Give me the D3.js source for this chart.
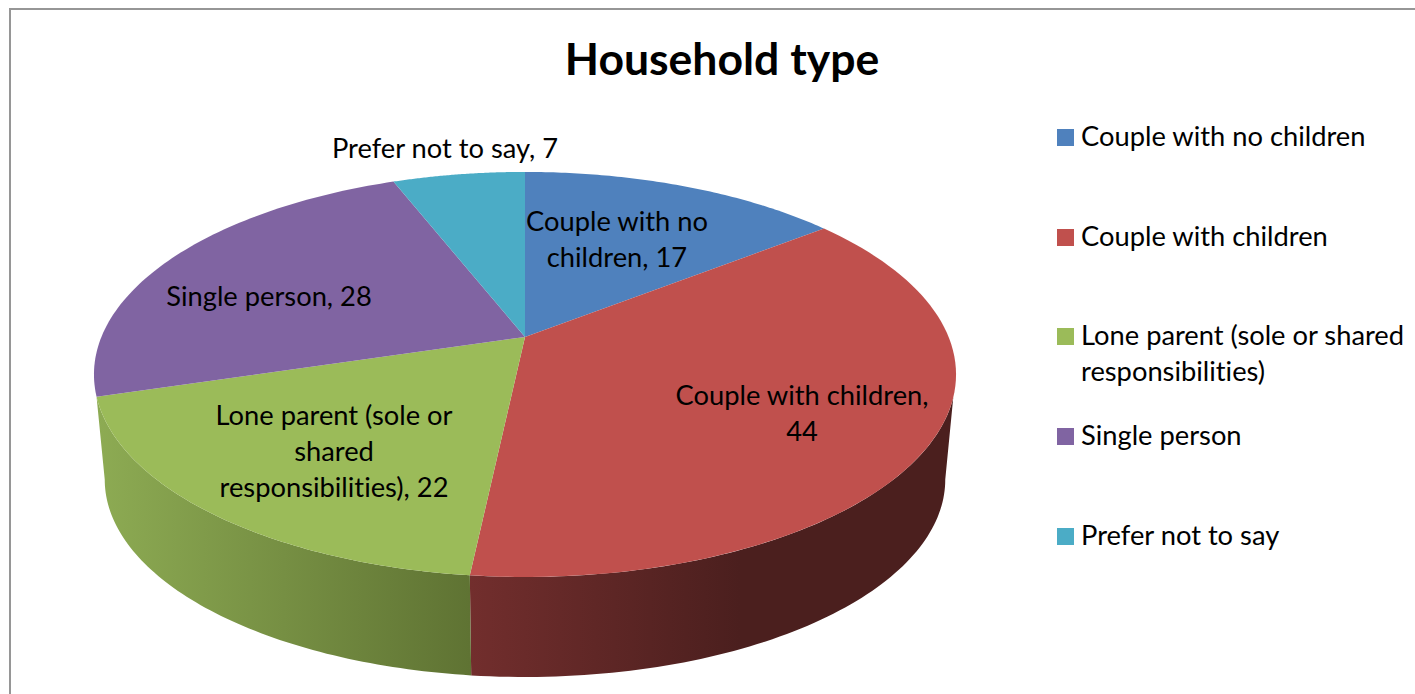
<!DOCTYPE html>
<html><head><meta charset="utf-8">
<script src="https://d3js.org/d3.v7.min.js"></script>
<style>html,body{margin:0;padding:0;background:#fff;overflow:hidden}text{font-family:Lato,"Open Sans",sans-serif;fill:#000;font-variant-ligatures:none}</style>
</head><body><svg id="c" width="1415" height="694"></svg>
<script>
const categories=["Couple with no children","Couple with children","Lone parent (sole or shared responsibilities)","Single person","Prefer not to say"];
const values=[17,44,22,28,7];
const topColors=["#4f81bd","#c0504d","#9bbb59","#8064a2","#4bacc6"];
const labelLines=[["Couple with no","children, 17"],["Couple with children,","44"],["Lone parent (sole or","shared","responsibilities), 22"],["Single person, 28"],["Prefer not to say, 7"]];
const labelPos=[[617,240],[802,414],[334,452],[269,297],[445,149]];
const legendLines=[["Couple with no children"],["Couple with children"],["Lone parent (sole or shared","responsibilities)"],["Single person"],["Prefer not to say"]];
const legendY=[137,237,336,436,536];
const svg=d3.select("#c");
const defs=svg.append("defs");
const cx=525,cy=337,K=-0.185,A=195.6,B=423.6,depth=106,sideSc=0.975;
function proj(t,dy=0,sc=1){const x=Math.sin(t),y=-Math.cos(t),w=1+K*y;return [cx+sc*B*x/w,cy+dy+sc*A*y/w];}
const arcs=d3.pie().sort(null).value(d=>d)(values);
svg.append("rect").attr("x",10).attr("y",9).attr("width",1500).attr("height",800).attr("fill","#fff").attr("stroke","#969696").attr("stroke-width",2);
const line=d3.line();
function rim(a0,a1,dy=0,sc=1){return d3.range(0,81).map(i=>proj(a0+(a1-a0)*i/80,dy,sc));}
const g1=defs.append("linearGradient").attr("id","gRed").attr("gradientUnits","userSpaceOnUse").attr("x1",470).attr("x2",740).attr("y1",0).attr("y2",0);
g1.append("stop").attr("offset",0).attr("stop-color","#722e2d");g1.append("stop").attr("offset",1).attr("stop-color","#4b1f1e");
const g2=defs.append("linearGradient").attr("id","gGreen").attr("gradientUnits","userSpaceOnUse").attr("x1",97).attr("x2",470).attr("y1",0).attr("y2",0);
g2.append("stop").attr("offset",0).attr("stop-color","#8dab53");g2.append("stop").attr("offset",1).attr("stop-color","#5f7333");
const tangent=Math.acos(K);          // widest point of the lower rim
const wallStart=tangent+0.11;        // where the wall leaves the top rim
function wall(topA,topB,botA,botB,fill){const t=rim(topA,topB),b=rim(botA,botB,depth,sideSc).reverse();svg.append("path").attr("d",line(t.concat(b))+"Z").attr("fill",fill);}
wall(wallStart,arcs[1].endAngle,tangent,arcs[1].endAngle,"url(#gRed)");
wall(arcs[2].startAngle,arcs[2].endAngle,arcs[2].startAngle,2*Math.PI-tangent,"url(#gGreen)");
arcs.forEach((a,i)=>{svg.append("path").attr("d",line([[cx,cy]].concat(rim(a.startAngle,a.endAngle)))+"Z").attr("fill",topColors[i]);});
svg.append("text").attr("x",722).attr("y",75).attr("text-anchor","middle").attr("font-size",44.5).attr("font-weight",700).text("Household type");
labelLines.forEach((ls,i)=>{const n=ls.length;const t=svg.append("text").attr("text-anchor","middle").attr("font-size",27.3);
ls.forEach((l,j)=>t.append("tspan").attr("x",labelPos[i][0]).attr("y",labelPos[i][1]+9+(j-(n-1)/2)*36).text(l));});
const lg=svg.selectAll(".lg").data(categories).enter().append("g").attr("class","lg");
lg.append("rect").attr("x",1057).attr("y",(d,i)=>legendY[i]-8).attr("width",17).attr("height",17).attr("fill",(d,i)=>topColors[i]);
lg.append("text").attr("font-size",27.3).each(function(d,i){const s=d3.select(this);legendLines[i].forEach((l,j)=>s.append("tspan").attr("x",1081).attr("y",legendY[i]+9+j*36).text(l));});
</script></body></html>
